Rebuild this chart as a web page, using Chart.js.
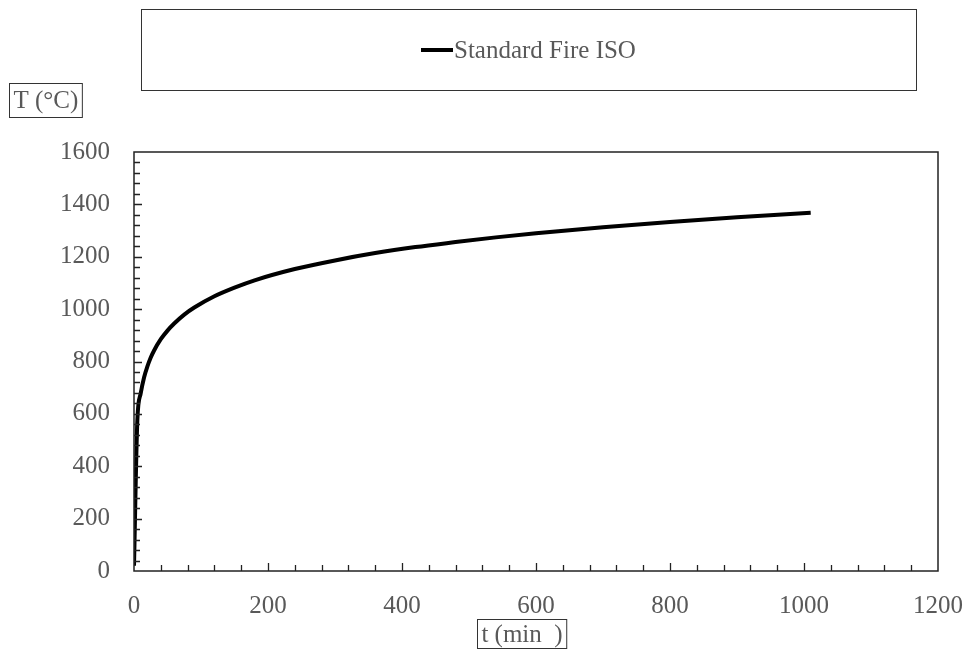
<!DOCTYPE html>
<html>
<head>
<meta charset="utf-8">
<script src="https://cdn.jsdelivr.net/npm/chart.js@4.4.1/dist/chart.umd.min.js"></script>
<style>
  html, body { margin: 0; padding: 0; background: #fff; }
  #wrap { width: 965px; height: 651px; }
</style>
</head>
<body>
<div id="wrap"><canvas id="chartSpace" width="965" height="651"></canvas></div>
<script>
// ISO fire curve: time (min) vs gas temperature (°C)
const timeMin = [0, 5, 10, 15, 20, 25, 30, 40, 50, 60, 75, 90, 120, 150, 180, 240, 300, 360, 420, 480, 540, 600, 700, 800, 900, 1010];
const tempC   = [20, 576, 678, 739, 781, 815, 842, 885, 918, 945, 979, 1006, 1049, 1082, 1110, 1153, 1186, 1214, 1237, 1256, 1274, 1290, 1313, 1333, 1351, 1368];

const seriesName = 'Standard Fire ISO';
const yTitle = 'T (°C)';
const xTitle = 't (min  )';

const xMax = 1200, xStep = 200;
const yMax = 1600, yStep = 200;
const minorStep = 40;

const chartDiv = document.getElementById('chartSpace');
const textGray = '#595959';
const serif = '"Liberation Serif", "Times New Roman", serif';

const points = timeMin.map((t, i) => ({ x: t, y: tempC[i] }));

// frame, inward ticks, legend box and boxed axis titles
const decorations = {
  id: 'decorations',
  afterDatasetsDraw(chart) {
    const ctx = chart.ctx;
    const a = chart.chartArea;
    const xs = chart.scales.x;
    const ys = chart.scales.y;

    ctx.save();
    ctx.strokeStyle = '#222';
    ctx.lineWidth = 1.5;
    ctx.strokeRect(a.left, a.top, a.right - a.left, a.bottom - a.top);

    ctx.lineWidth = 1.3;
    ctx.beginPath();
    for (let v = minorStep; v < xMax; v += minorStep) {
      const px = Math.round(xs.getPixelForValue(v)) + 0.5;
      const len = v % xStep === 0 ? 8 : 6;
      ctx.moveTo(px, a.bottom);
      ctx.lineTo(px, a.bottom - len);
    }
    for (let v = minorStep; v < yMax; v += minorStep) {
      const py = Math.round(ys.getPixelForValue(v)) + 0.5;
      const len = v % yStep === 0 ? 8 : 6;
      ctx.moveTo(a.left, py);
      ctx.lineTo(a.left + len, py);
    }
    ctx.stroke();

    // legend
    const ds = chart.data.datasets[0];
    ctx.strokeStyle = '#333';
    ctx.lineWidth = 1;
    ctx.strokeRect(141.5, 9.5, 775, 81);
    ctx.strokeStyle = ds.borderColor;
    ctx.lineWidth = 4;
    ctx.beginPath();
    ctx.moveTo(421, 50);
    ctx.lineTo(453, 50);
    ctx.stroke();
    ctx.font = '25px ' + serif;
    ctx.fillStyle = textGray;
    ctx.textBaseline = 'middle';
    ctx.textAlign = 'left';
    ctx.fillText(ds.label, 454, 51);

    // axis titles in small boxes
    ctx.strokeStyle = '#333';
    ctx.lineWidth = 1;
    ctx.textAlign = 'center';
    let w = ctx.measureText(yTitle).width;
    ctx.strokeRect(9.5, 83.5, w + 8, 34);
    ctx.fillText(yTitle, 9.5 + (w + 8) / 2, 101);

    w = ctx.measureText(xTitle).width;
    const cx = 522;
    ctx.strokeRect(Math.round(cx - w / 2 - 4) + 0.5, 619.5, w + 8, 29);
    ctx.fillText(xTitle, cx, 635);
    ctx.restore();
  }
};

new Chart(chartDiv, {
  type: 'line',
  data: {
    datasets: [{
      label: seriesName,
      data: points,
      borderColor: '#000',
      borderWidth: 4,
      pointRadius: 0,
      fill: false,
      cubicInterpolationMode: 'monotone'
    }]
  },
  options: {
    responsive: false,
    animation: false,
    events: [],
    layout: { padding: { top: 152, right: 27, bottom: 0, left: 0 } },
    plugins: {
      legend: { display: false },
      tooltip: { enabled: false }
    },
    scales: {
      x: {
        type: 'linear',
        min: 0,
        max: xMax,
        grid: { display: false, drawTicks: false },
        border: { display: false },
        ticks: {
          stepSize: xStep,
          padding: 20,
          color: textGray,
          font: { family: serif, size: 25 },
          callback: v => String(v)
        },
        afterFit(scale) {
          scale.height = 80;
          scale.paddingLeft = 0;
          scale.paddingRight = 0;
        }
      },
      y: {
        min: 0,
        max: yMax,
        grid: { display: false, drawTicks: false },
        border: { display: false },
        ticks: {
          stepSize: yStep,
          padding: 24,
          color: textGray,
          font: { family: serif, size: 25 },
          callback: v => String(v)
        },
        afterFit(scale) {
          scale.width = 134;
          scale.paddingTop = 0;
          scale.paddingBottom = 0;
        }
      }
    }
  },
  plugins: [decorations]
});
</script>
</body>
</html>
